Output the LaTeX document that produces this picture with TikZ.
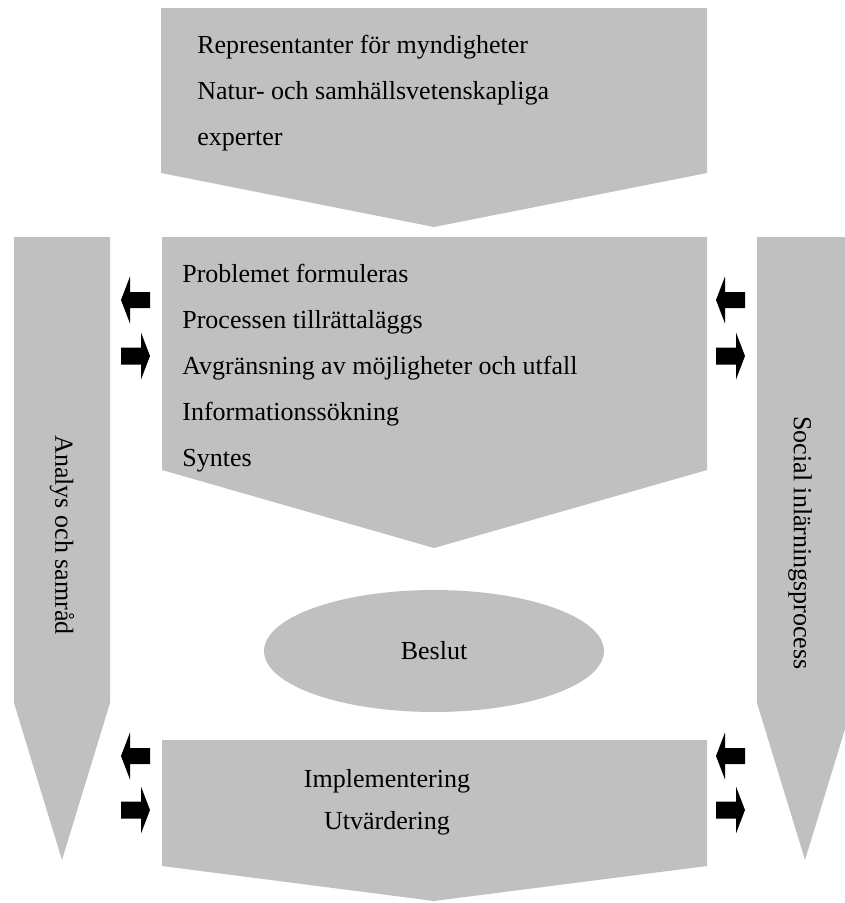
\documentclass[tikz,border=0pt]{standalone}
\usepackage{fontspec}
\setmainfont{Liberation Serif}
\usetikzlibrary{shapes.geometric}
\definecolor{boxgray}{HTML}{C0C0C0}
\tikzset{
  flowbox/.style={fill=boxgray},
  boxtext/.style={inner sep=0pt, align=left, font=\fontsize{14.8pt}{26.2pt}\selectfont},
  blockarrow/.style={fill=black},
}
\begin{document}
\begin{tikzpicture}[x=0.02cm, y=-0.02cm]
\useasboundingbox (0,0) rectangle (845,903);
\clip (0,0) rectangle (845,903);

% Side columns
\fill[flowbox] (14,237) -- (110,237) -- (110,703) -- (62,860) -- (14,703) -- cycle;
\fill[flowbox] (757,237) -- (853,237) -- (853,703) -- (805,860) -- (757,703) -- cycle;
\node[boxtext, rotate=-90] (analys) at (62,535) {Analys och samråd};
\node[boxtext, rotate=-90] (social) at (800,543) {Social inlärningsprocess};

% Participants
\fill[flowbox] (161,8) -- (707,8) -- (707,173) -- (434,227) -- (161,173) -- cycle;
\node[boxtext, anchor=west] (actors) at (197,93) {Representanter för myndigheter\\Natur- och samhällsvetenskapliga\\experter};

% Process steps
\fill[flowbox] (162,237) -- (707,237) -- (707,470) -- (434,548) -- (162,470) -- cycle;
\node[boxtext, anchor=west] (steps) at (182,368) {Problemet formuleras\\Processen tillrättaläggs\\Avgränsning av möjligheter och utfall\\Informationssökning\\Syntes};

% Decision
\node[ellipse, flowbox, minimum width=6.8cm, minimum height=2.44cm, font=\fontsize{14.8pt}{26.2pt}\selectfont] (beslut) at (434,651) {Beslut};

% Implementation
\fill[flowbox] (162,740) -- (707,740) -- (707,866) -- (434,901) -- (162,866) -- cycle;
\node[boxtext, align=center, font=\fontsize{14.8pt}{24pt}\selectfont] (impl) at (387,802) {Implementering\\Utvärdering};

% Small black arrows
\foreach \x/\y in {121/300, 716/300, 121/756, 716/756}
  \fill[blockarrow] (\x,\y) -- ++(9,-23.5) -- ++(0,15.5) -- ++(20,0) -- ++(0,16) -- ++(-20,0) -- ++(0,15.5) -- cycle;
\foreach \x/\y in {150/356, 745/356, 150/810, 745/810}
  \fill[blockarrow] (\x,\y) -- ++(-9,-23.5) -- ++(0,15) -- ++(-20,0) -- ++(0,17) -- ++(20,0) -- ++(0,15) -- cycle;
\end{tikzpicture}
\end{document}
